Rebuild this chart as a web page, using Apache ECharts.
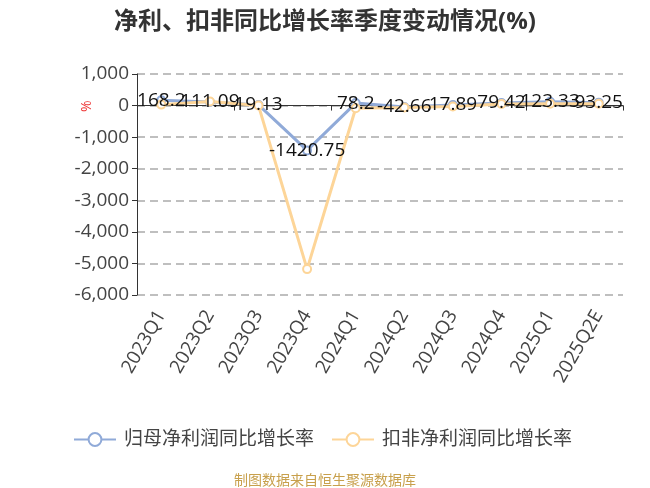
<!DOCTYPE html>
<html><head><meta charset="utf-8">
<script src="https://cdn.jsdelivr.net/npm/echarts@6/dist/echarts.min.js"></script>
<style>html,body{margin:0;padding:0;background:#fff}#c{width:650px;height:488px}</style>
</head><body><div id="c"></div>
<script>
const categories = ['2023Q1','2023Q2','2023Q3','2023Q4','2024Q1','2024Q2','2024Q3','2024Q4','2025Q1','2025Q2E'];
const netProfitYoY = [168.2, 111.09, 19.13, -1420.75, 78.2, -42.66, 17.89, 79.42, 123.33, 93.25];
const deductedYoY = [30, 130, 0, -5180, -85, -63, -30, 53, 55, 55];
const yTicks = {min: -6000, max: 1000, interval: 1000};

const chart = echarts.init(document.getElementById('c'));
const font = '"Open Sans","Noto Sans CJK SC",sans-serif';
chart.setOption({
  animation: false,
  textStyle: {fontFamily: font},
  title: {text: '净利、扣非同比增长率季度变动情况(%)', left: 'center', top: 5,
    textStyle: {fontSize: 24, fontWeight: 'bold', color: '#333', fontFamily: font}},
  grid: {left: 137, right: 27, top: 74, bottom: 193, containLabel: false, outerBoundsMode: 'none'},
  legend: {top: 425, left: 68, itemWidth: 42, itemHeight: 16, itemGap: 17,
    textStyle: {fontSize: 19, color: '#444', padding: [0, 0, 0, 3]},
    data: ['归母净利润同比增长率', '扣非净利润同比增长率']},
  graphic: [
    {type: 'text', left: 'center', top: 474, style: {text: '制图数据来自恒生聚源数据库', fill: '#c8a04c', fontSize: 14, fontFamily: font}},
    {type: 'text', x: 80, y: 112, rotation: Math.PI/2, style: {text: '%', fill: '#e33', fontSize: 14, fontFamily: font}}
  ],
  xAxis: [
    {type: 'category', data: categories, boundaryGap: true,
      axisLine: {onZero: true, lineStyle: {color: '#333'}},
      axisTick: {show: true, lineStyle: {color: '#333'}},
      axisLabel: {show: false}},
    {type: 'category', data: categories, boundaryGap: true, position: 'bottom',
      axisLine: {show: false}, axisTick: {show: false}, splitLine: {show: false},
      axisLabel: {show: true, rotate: 60, fontSize: 19, color: '#444', interval: 0, margin: 17}}
  ],
  yAxis: {type: 'value', min: yTicks.min, max: yTicks.max, interval: yTicks.interval,
    axisLine: {show: true, lineStyle: {color: '#333'}},
    axisTick: {show: true, lineStyle: {color: '#333'}},
    axisLabel: {fontSize: 19, color: '#444',
      formatter: v => v.toLocaleString('en-US')},
    splitLine: {lineStyle: {type: [8, 5], color: '#aaa', width: 1.5}}},
  series: [
    {name: '归母净利润同比增长率', type: 'line', data: netProfitYoY, xAxisIndex: 0,
      symbol: 'emptyCircle', symbolSize: 8,
      lineStyle: {color: '#90aad8', width: 3}, itemStyle: {color: '#90aad8'},
      label: {show: true, position: 'inside', fontSize: 19, color: '#111'}},
    {name: '扣非净利润同比增长率', type: 'line', data: deductedYoY, xAxisIndex: 0,
      symbol: 'emptyCircle', symbolSize: 8,
      lineStyle: {color: '#fdd598', width: 3}, itemStyle: {color: '#fdd598'}}
  ]
});
</script></body></html>
